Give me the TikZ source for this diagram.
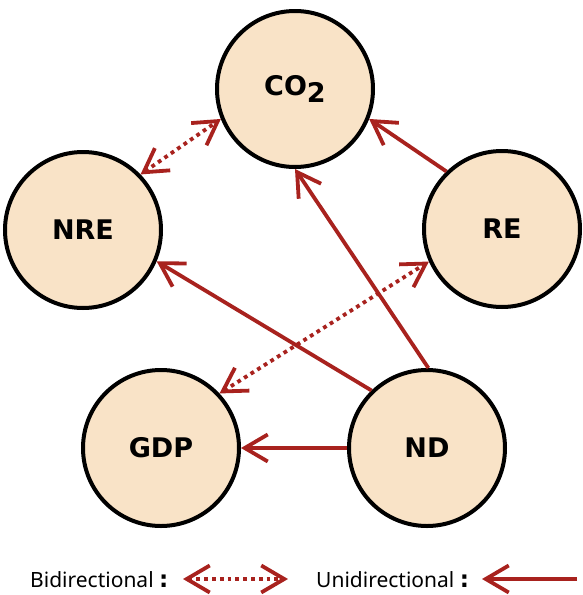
\documentclass[tikz,border=0pt]{standalone}
\usepackage{fontspec}
\setmainfont{Noto Sans}
\newfontfamily\nodefont{DejaVu Sans}
\usetikzlibrary{arrows.meta}
\definecolor{arr}{RGB}{168,34,30}
\definecolor{peach}{RGB}{249,227,199}
\begin{document}
\begin{tikzpicture}[x=1pt,y=-1pt,
 var/.style={circle,draw=black,line width=4pt,fill=peach,minimum size=156pt,inner sep=0pt,font=\nodefont\fontsize{27}{30}\selectfont\bfseries},
 tipb/.tip={Straight Barb[length=23pt,width=27pt]},
 uni/.style={draw=arr,line width=3.8pt,-tipb},
 bi/.style={draw=arr,line width=3.8pt,dash pattern=on 3.8pt off 4pt,tipb-tipb},
 leg/.style={font=\fontsize{21}{24}\selectfont, inner sep=0pt, anchor=base west}]
\useasboundingbox (0,0) rectangle (582,595);
\node[var] (co2) at (295,89) {CO\raisebox{-7pt}{2}};
\node[var] (nre) at (83,230) {NRE};
\node[var] (re) at (502,229) {RE};
\node[var] (gdp) at (161,448) {GDP};
\node[var] (nd) at (427,448) {ND};
\draw[bi] (nre.44) -- (co2.202);
\draw[uni] (re.134) -- (co2.338);
\draw[uni] (nd.89) -- (co2.270);
\draw[uni] (nd.134) -- (nre.337);
\draw[bi] (gdp.43) -- (re.204);
\draw[uni] (nd.180) -- (gdp.0);
\node[leg] (bl) at (30,587) {Bidirectional {\nodefont\bfseries\fontsize{23}{24}\selectfont:}};
\coordinate (b1) at (183,579);
\coordinate (b2) at (288,579);
\draw[bi] (b1) -- (b2);
\node[leg] (ul) at (316,587) {Unidirectional {\nodefont\bfseries\fontsize{23}{24}\selectfont:}};
\coordinate (u1) at (577,579);
\coordinate (u2) at (482,579);
\draw[uni] (u1) -- (u2);
\end{tikzpicture}
\end{document}
